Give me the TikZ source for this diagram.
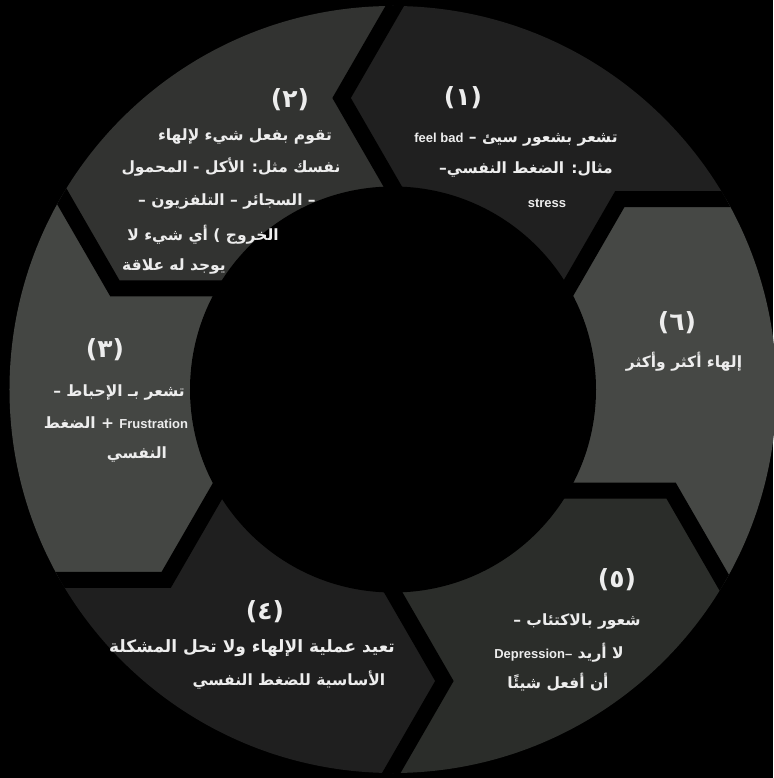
\documentclass[tikz,border=0pt]{standalone}
\usepackage{fontspec}
\setmainfont{Liberation Sans}
\newfontfamily\arabicfont[Script=Arabic]{DejaVu Sans}
\TeXXeTstate=1
\usetikzlibrary{calc}
\definecolor{segone}{HTML}{202020}
\definecolor{segtwo}{HTML}{323331}
\definecolor{segthree}{HTML}{444643}
\definecolor{segfour}{HTML}{1F1F1F}
\definecolor{segfive}{HTML}{2B2D2A}
\definecolor{segsix}{HTML}{464845}
\definecolor{txtw}{HTML}{EDEDED}
\newcommand{\rl}[1]{\beginR #1\endR}
\newcommand{\en}[1]{\beginL{\normalfont\bfseries\fontsize{13}{15}\selectfont #1}\endL}
\tikzset{
  gapline/.style={draw=black, line width=16pt, line join=miter},
  numlbl/.style={text=txtw, inner sep=0pt, font=\arabicfont\bfseries\fontsize{25}{27}\selectfont},
  linelbl/.style={text=txtw, inner sep=0pt, font=\arabicfont\bfseries\fontsize{15.5}{18}\selectfont},
}
\begin{document}
\begin{tikzpicture}[x=1pt,y=1pt]
\useasboundingbox (-393,-388.5) rectangle (380,389.5);
\fill[black] (-393,-388.5) rectangle (380,389.5);
% ring of six chevrons
\begin{scope}
\clip (0,0) circle (383.5);
\foreach \a/\col in {30/segone,90/segtwo,150/segthree,210/segfour,270/segfive,330/segsix}{
  \pgfmathsetmacro\b{\a+60}
  \fill[\col] ($({\a+10}:296)+({\a-30}:140)$) -- ({\a+10}:296) -- ($({\a+10}:296)+({\a+210}:130)$)
    -- ($({\b+10}:296)+({\b+210}:130)$) -- ({\b+10}:296) -- ($({\b+10}:296)+({\b-30}:140)$)
    -- ({\a+30}:700) -- cycle;
}
\foreach \a in {30,90,...,330}
  \draw[gapline] ($({\a+10}:296)+({\a-30}:140)$) -- ({\a+10}:296) -- ($({\a+10}:296)+({\a+210}:130)$);
\fill[black] (0,0) circle (203);
\end{scope}
% (1)
\node[numlbl] (s1num) at (70,291.5) {(١)};
\node[linelbl] (s1a) at (123,249.5) {\rl{تشعر بشعور سيئ – \en{feel bad}}};
\node[linelbl] (s1b) at (133,219.5) {\rl{مثال: الضغط النفسي–}};
\node[linelbl] (s1c) at (154,186.5) {\en{stress}};
% (2)
\node[numlbl] (s2num) at (-103,289.5) {(٢)};
\node[linelbl] (s2a) at (-148,252.5) {\rl{تقوم بفعل شيء لإلهاء}};
\node[linelbl] (s2b) at (-162,222.5) {\rl{نفسك مثل: الأكل - المحمول}};
\node[linelbl] (s2c) at (-166,187.5) {\rl{– السجائر – التلفزيون –}};
\node[linelbl] (s2d) at (-190,154.5) {\rl{الخروج ) أي شيء لا}};
\node[linelbl] (s2e) at (-219,122.5) {\rl{يوجد له علاقة}};
% (3)
\node[numlbl] (s3num) at (-288,39.5) {(٣)};
\node[linelbl] (s3a) at (-274,-3.5) {\rl{تشعر بـ الإحباط –}};
\node[linelbl] (s3b) at (-277,-33.5) {\rl{\en{Frustration} + الضغط}};
\node[linelbl] (s3c) at (-256,-65.5) {\rl{النفسي}};
% (4)
\node[numlbl] (s4num) at (-128,-222.5) {(٤)};
\node[linelbl, font=\arabicfont\bfseries\fontsize{17}{19}\selectfont] (s4a) at (-141,-258.5) {\rl{تعيد عملية الإلهاء ولا تحل المشكلة}};
\node[linelbl] (s4b) at (-104,-290.5) {\rl{الأساسية للضغط النفسي}};
% (5)
\node[numlbl] (s5num) at (224,-190.5) {(٥)};
\node[linelbl] (s5a) at (184,-232.5) {\rl{شعور بالاكتئاب –}};
\node[linelbl] (s5b) at (166,-263.5) {\rl{لا أريد \en{Depression–}}};
\node[linelbl] (s5c) at (165,-292.5) {\rl{أن أفعل شيئًا}};
% (6)
\node[numlbl] (s6num) at (284,66.5) {(٦)};
\node[linelbl] (s6a) at (291,27.5) {\rl{إلهاء أكثر وأكثر}};
\end{tikzpicture}
\end{document}
